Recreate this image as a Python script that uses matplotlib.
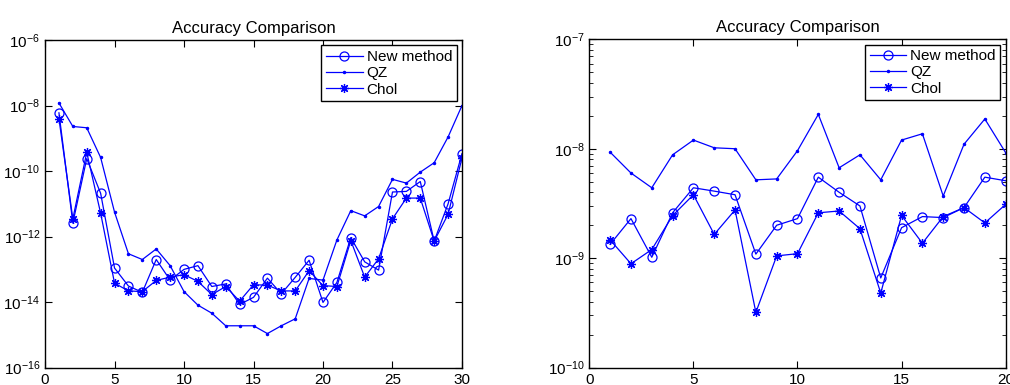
import numpy as np
import matplotlib
matplotlib.use("Agg")
import matplotlib.pyplot as plt
from matplotlib.ticker import LogLocator, NullFormatter, NullLocator

plt.rcParams['font.family'] = ['Liberation Sans', 'DejaVu Sans']
plt.rcParams['mathtext.fontset'] = 'custom'
plt.rcParams['mathtext.rm'] = 'Liberation Sans'
plt.rcParams['mathtext.it'] = 'Liberation Sans'

# ---- Left panel data (sizes 1..30) ----
x_left = list(range(1, 31))
new_left = [6e-9, 2.6e-12, 2.4e-10, 2.1e-11, 1.1e-13, 3.1e-14, 2.0e-14, 2.0e-13, 4.7e-14, 1.0e-13,
            1.3e-13, 3.0e-14, 3.6e-14, 8.5e-15, 1.4e-14, 5.4e-14, 1.8e-14, 5.7e-14, 1.9e-13, 9.8e-15,
            4.0e-14, 9.3e-13, 1.7e-13, 9.5e-14, 2.3e-11, 2.4e-11, 4.8e-11, 7.3e-13, 1.0e-11, 3.4e-10]
qz_left = [1.2e-8, 2.3e-9, 2.1e-9, 2.6e-10, 5.6e-12, 3.0e-13, 2.0e-13, 4.2e-13, 1.3e-13, 2.1e-14,
           8.1e-15, 4.6e-15, 1.9e-15, 1.9e-15, 1.9e-15, 1.1e-15, 1.9e-15, 3.1e-15, 5.3e-14, 4.7e-14,
           7.9e-13, 6.2e-12, 4.3e-12, 8.3e-12, 5.6e-11, 4.3e-11, 9.3e-11, 1.8e-10, 1.1e-9, 1.0e-8]
chol_left = [4e-9, 3.5e-12, 3.7e-10, 5.2e-12, 3.8e-14, 2.2e-14, 2.1e-14, 4.6e-14, 5.8e-14, 6.9e-14,
             4.3e-14, 1.7e-14, 3.0e-14, 1.07e-14, 3.4e-14, 3.3e-14, 2.2e-14, 2.2e-14, 9.1e-14, 3.2e-14,
             3.0e-14, 7.6e-13, 5.8e-14, 2.1e-13, 3.5e-12, 1.5e-11, 1.5e-11, 7.3e-13, 4.8e-12, 2.5e-10]

# ---- Right panel data (sizes 1..20) ----
x_right = list(range(1, 21))
new_right = [1.34e-9, 2.3e-9, 1.02e-9, 2.6e-9, 4.4e-9, 4.1e-9, 3.8e-9, 1.09e-9, 2.0e-9, 2.3e-9,
             5.5e-9, 4.0e-9, 3.0e-9, 6.6e-10, 1.9e-9, 2.4e-9, 2.35e-9, 2.9e-9, 5.5e-9, 5.1e-9]
qz_right = [9.3e-9, 6.0e-9, 4.4e-9, 8.8e-9, 1.2e-8, 1.02e-8, 1.0e-8, 5.2e-9, 5.3e-9, 9.6e-9,
            2.06e-8, 6.7e-9, 8.8e-9, 5.2e-9, 1.2e-8, 1.37e-8, 3.7e-9, 1.1e-8, 1.87e-8, 9.2e-9]
chol_right = [1.47e-9, 8.9e-10, 1.2e-9, 2.45e-9, 3.8e-9, 1.65e-9, 2.76e-9, 3.2e-10, 1.05e-9, 1.1e-9,
              2.6e-9, 2.7e-9, 1.86e-9, 4.8e-10, 2.46e-9, 1.37e-9, 2.4e-9, 2.9e-9, 2.1e-9, 3.1e-9]

series_labels = ['New method', 'QZ', 'Chol']
title_text = 'Accuracy Comparison'

fig = plt.figure(figsize=(10.1, 3.85), dpi=100)
ax1 = fig.add_axes([0.0446, 0.045, 0.4128, 0.851])
ax2 = fig.add_axes([0.5835, 0.045, 0.4122, 0.853])

blue = (0, 0, 1)
asterisk = (8, 2, 0)


def draw(ax, x, new, qz, chol):
    ax.semilogy(x, new, linestyle='-', marker='o', color=blue, lw=0.9, ms=6.5,
                mfc='none', mec=blue, mew=0.9, label=series_labels[0])
    ax.semilogy(x, qz, linestyle='-', marker='.', color=blue, lw=0.9, ms=3,
                label=series_labels[1])
    ax.semilogy(x, chol, linestyle='-', marker=asterisk, color=blue, lw=0.9, ms=6.5,
                mec=blue, mew=0.9, label=series_labels[2])
    ax.set_title(title_text, fontsize=12, pad=5)
    ax.tick_params(which='both', direction='in', top=True, right=True, labelsize=11)
    ax.tick_params(which='major', length=5, width=0.8)
    ax.tick_params(which='minor', length=3, width=0.6)
    for s in ax.spines.values():
        s.set_linewidth(1.0)
    leg = ax.legend(loc='upper right', fontsize=11, fancybox=False, framealpha=1,
                    edgecolor='black', borderaxespad=0.35, handlelength=2.4,
                    handletextpad=0.25, labelspacing=0.15, borderpad=0.3)
    leg.get_frame().set_linewidth(1.0)


draw(ax1, x_left, new_left, qz_left, chol_left)
ax1.set_xlim(0, 30)
ax1.set_ylim(1e-16, 1e-6)
ax1.set_xticks([0, 5, 10, 15, 20, 25, 30])
ax1.set_yticks([1e-16, 1e-14, 1e-12, 1e-10, 1e-8, 1e-6])
ax1.yaxis.set_minor_locator(NullLocator())

draw(ax2, x_right, new_right, qz_right, chol_right)
ax2.set_xlim(0, 20)
ax2.set_ylim(1e-10, 1e-7)
ax2.set_xticks([0, 5, 10, 15, 20])
ax2.set_yticks([1e-10, 1e-9, 1e-8, 1e-7])
ax2.yaxis.set_minor_locator(LogLocator(base=10, subs=np.arange(2, 10) * 1.0, numticks=20))
ax2.yaxis.set_minor_formatter(NullFormatter())

fig.savefig('out.png', dpi=100)
